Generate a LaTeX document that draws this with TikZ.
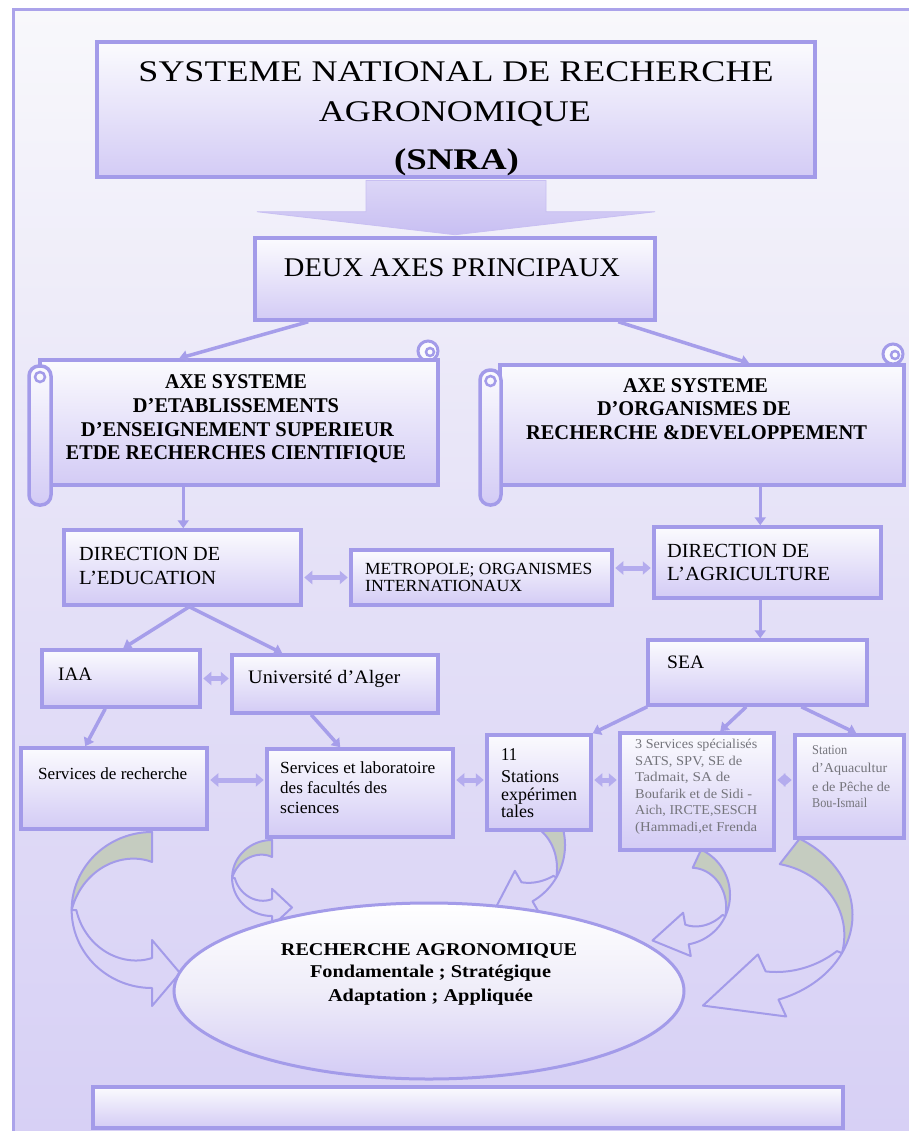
\documentclass[tikz,border=0pt]{standalone}
\usepackage{fontspec}
\setmainfont{Liberation Serif}
\usepackage{graphicx}
\usetikzlibrary{arrows.meta,calc,shapes.geometric}

\definecolor{frame}{HTML}{ABA3EA}
\definecolor{edge}{HTML}{A39BE9}
\definecolor{boxtop}{HTML}{FBFBFE}
\definecolor{boxbot}{HTML}{D3CBF5}
\definecolor{bgtop}{HTML}{F8F8FB}
\definecolor{bgmid}{HTML}{E4E0F7}
\definecolor{bgbot}{HTML}{D6CFF5}
\definecolor{linkc}{HTML}{A69EEA}
\definecolor{dlinkc}{HTML}{B4ACEE}
\definecolor{sage}{HTML}{C5CCC0}
\definecolor{greytxt}{HTML}{75757C}
\definecolor{arrtop}{HTML}{DCD6F7}
\definecolor{arrbot}{HTML}{C8BFF2}
\definecolor{ellbot}{HTML}{D3CBF5}
\definecolor{ellmid}{HTML}{EFEDF9}

\newcommand\fs[1]{\fontsize{#1}{#1}\selectfont}
\newcommand\fitw[2]{\resizebox{#1}{\height}{#2}}
% one line of text: name, anchor, position, font, width, text
\newcommand\tline[6]{\node[anchor=#2,inner sep=0pt,font=#4] (#1) at (#3) {\fitw{#5}{#6}};}

% curved block arrow: centre (#1,#2), outer radius #3, horizontal stretch #4,
% band width #5, start angle #6, end of shaded back part #7, neck angle #8,
% head length #9
\newcommand\curvarrow[9]{%
  \pgfmathsetmacro\cvd{(#8>#6) ? 1 : -1}%
  \pgfmathsetmacro\cvh{0.6*#5}%
  \pgfmathsetmacro\cvn{sqrt((#4*sin(#8))^2+(cos(#8))^2)}%
  \pgfmathsetmacro\cvtx{-\cvd*#4*sin(#8)/\cvn}%
  \pgfmathsetmacro\cvty{\cvd*cos(#8)/\cvn}%
  \pgfmathsetmacro\cvrm{#3-#5/2}%
  \pgfmathsetmacro\cvpx{#1+#4*\cvrm*cos(#8)+#9*\cvtx}%
  \pgfmathsetmacro\cvpy{#2+\cvrm*sin(#8)+#9*\cvty}%
  \filldraw[backpart]
    plot[domain=#6:#7,samples=40,variable=\q] ({#1+#4*#3*cos(\q)},{#2+#3*sin(\q)})
    -- plot[domain=#7:#6,samples=40,variable=\q]
       ({#1+#4*(#3-#5*(\q-(#7))/((#6)-(#7)))*cos(\q)},{#2+(#3-#5*(\q-(#7))/((#6)-(#7)))*sin(\q)})
    -- cycle;
  \draw[frontpart]
    plot[domain=#7:#8,samples=40,variable=\q] ({#1+#4*#3*cos(\q)},{#2+#3*sin(\q)})
    -- ({#1+#4*(#3+\cvh)*cos(#8)},{#2+(#3+\cvh)*sin(#8)})
    -- (\cvpx,\cvpy)
    -- ({#1+#4*(#3-#5-\cvh)*cos(#8)},{#2+(#3-#5-\cvh)*sin(#8)})
    -- plot[domain=#8:#7,samples=40,variable=\q]
       ({#1+#4*(#3-#5+0.85*#5*(\q-(#8))/((#7)-(#8)))*cos(\q)},{#2+(#3-#5+0.85*#5*(\q-(#8))/((#7)-(#8)))*sin(\q)})
    -- cycle;
}

\begin{document}
\begin{tikzpicture}[x=1pt,y=-1pt,
  box/.style={rectangle,draw=edge,line width=3.5pt,top color=boxtop,bottom color=boxbot,inner sep=0pt},
  roll/.style={draw=edge,line width=3.5pt,top color=boxtop,bottom color=boxbot},
  curl/.style={draw=edge,line width=2.5pt},
  link/.style={draw=linkc,line width=3.5pt,-{Triangle[width=11pt,length=8pt]}},
  dlink/.style={draw=dlinkc,line width=5pt,{Triangle[width=13pt,length=8pt]}-{Triangle[width=13pt,length=8pt]},shorten >=1.5pt,shorten <=1.5pt},
  backpart/.style={fill=sage,draw=edge,line width=2pt,line join=round},
  frontpart/.style={draw=edge,line width=2pt,line join=round},
  blockarrow/.style={top color=arrtop,bottom color=arrbot,draw=arrbot,line width=0.8pt},
  plain/.style={text=black},
  grey/.style={text=greytxt}]

\useasboundingbox (0,0) rectangle (909,1131);
\clip (0,0) rectangle (909,1131);
\fill[white] (0,0) rectangle (909,1131);

% page frame with its soft lavender gradient
\path[draw=frame,line width=3pt,top color=bgtop,bottom color=bgbot,middle color=bgmid]
  (13,10) rectangle (950,1170);

% curved arrows feeding the research ellipse
\curvarrow{152}{910}{78}{1.03}{30}{270}{180}{90}{28}
\curvarrow{272}{878}{38}{1.05}{17}{270}{180}{90}{20}
\curvarrow{500}{845}{65}{1}{22}{-20}{30}{60}{38}
\curvarrow{680}{895}{50}{1}{20}{-65}{25}{80}{35}
\curvarrow{740}{915}{90}{1.25}{30}{-58}{25}{70}{72}

% title and the two axes
\node[box,minimum width=718pt,minimum height=135pt] (title) at (456,109.5) {};
\node[box,minimum width=400pt,minimum height=82pt] (deux) at (455,279) {};
\path[blockarrow]
  ($(title.south)+(-90,1.75)$) -- ($(title.south)+(90,1.75)$) -- ($(title.south)+(90,33)$)
  -- ($(title.south)+(199,33)$) -- ($(deux.north)+(0,-1.5)$) -- ($(title.south)+(-199,33)$)
  -- ($(title.south)+(-90,33)$) -- cycle;

% left scroll
\path[draw=edge,line width=3pt,fill=boxtop] (428,351) circle[radius=10];
\node[box,minimum width=398pt,minimum height=125pt] (lscroll) at (239,422.5) {};
\path[curl] (430,352) circle[radius=4];
\path[roll,rounded corners=10pt] (29,366) rectangle (51,505);
\path[curl] (40,377) circle[radius=5];

% right scroll
\path[draw=edge,line width=3pt,fill=boxtop] (893,354) circle[radius=10];
\node[box,minimum width=404pt,minimum height=120pt] (rscroll) at (702,425) {};
\path[curl] (895,355) circle[radius=4];
\path[roll,rounded corners=10pt] (480,370) rectangle (501,505);
\path[curl] (490.5,381) circle[radius=5];

% boxes
\node[box,minimum width=237pt,minimum height=75pt] (edu) at (182.5,567.5) {};
\node[box,minimum width=261pt,minimum height=55pt] (metro) at (481.5,577.5) {};
\node[box,minimum width=227pt,minimum height=71pt] (agri) at (767.5,562.5) {};
\node[box,minimum width=158pt,minimum height=57pt] (iaa) at (121,678.5) {};
\node[box,minimum width=206pt,minimum height=58pt] (univ) at (335,684) {};
\node[box,minimum width=219pt,minimum height=65pt] (sea) at (757.5,672.5) {};
\node[box,minimum width=186pt,minimum height=81pt] (srech) at (114,788.5) {};
\node[box,minimum width=186pt,minimum height=88pt] (slab) at (360,793) {};
\node[box,minimum width=104pt,minimum height=95pt] (stat11) at (539,782.5) {};
\node[box,minimum width=154pt,minimum height=117pt] (svc3) at (697,791.5) {};
\node[box,minimum width=109pt,minimum height=103pt] (aqua) at (849.5,786.5) {};
\node[box,minimum width=750pt,minimum height=41pt] (bar) at (468,1107.5) {};

% connectors
\draw[link] ($(deux.south west)+(55,0)$) -- ($(lscroll.north west)+(141,0)$);
\draw[link] ($(deux.south west)+(365,0)$) -- ($(rscroll.north west)+(251,0)$);
\draw[link] ($(lscroll.south west)+(145,0)$) -- ($(edu.north west)+(121,0)$);
\draw[link] ($(rscroll.south west)+(262,0)$) -- ($(agri.north west)+(108,0)$);
\draw[dlink] (edu.east |- metro.west) -- (metro.west);
\draw[dlink] ($(metro.east)+(0,-9.5)$) -- ($(agri.west)+(0,5.5)$);
\draw[link] ($(edu.south west)+(127,0)$) -- ($(iaa.north west)+(83,0)$);
\draw[link] ($(edu.south west)+(127,0)$) -- ($(univ.north west)+(52,0)$);
\draw[link] ($(agri.south west)+(108,0)$) -- ($(sea.north west)+(114,0)$);
\draw[dlink] (iaa.east) -- (univ.west |- iaa.east);
\draw[link] ($(iaa.south west)+(65,0)$) -- ($(srech.north west)+(66,0)$);
\draw[link] ($(univ.south west)+(81,0)$) -- ($(slab.north west)+(75,0)$);
\draw[dlink] ($(srech.east)+(0,-8.5)$) -- ($(slab.west)+(0,-13)$);
\draw[dlink] ($(slab.east)+(0,-13)$) -- ($(stat11.west)+(0,-2.5)$);
\draw[dlink] ($(stat11.east)+(0,-2.5)$) -- ($(svc3.west)+(0,-11.5)$);
\draw[dlink] ($(svc3.east)+(0,-11.5)$) -- ($(aqua.west)+(0,-6.5)$);
\draw[link] ($(sea.south west)+(1,0)$) -- (stat11.north east);
\draw[link] ($(sea.south west)+(100,0)$) -- ($(svc3.north west)+(102,0)$);
\draw[link] ($(sea.south west)+(155,0)$) -- ($(aqua.north west)+(63,0)$);

% research ellipse
\node[ellipse,draw=edge,line width=3pt,minimum width=510pt,minimum height=176pt,inner sep=0pt,
      top color=white,bottom color=ellbot,middle color=ellmid] (core) at (429,991) {};

% texts
\tline{t1}{base}{456,82}{\fs{30}}{635pt}{SYSTEME NATIONAL DE RECHERCHE}
\tline{t2}{base}{455,122}{\fs{30}}{272pt}{AGRONOMIQUE}
\tline{t3}{base}{456.5,170}{\fs{30}\bfseries}{125pt}{(SNRA)}
\tline{d1}{base}{452,277}{\fs{27}}{336pt}{DEUX AXES PRINCIPAUX}

\tline{ls1}{base}{236,388}{\fs{21}\bfseries}{142pt}{AXE SYSTEME}
\tline{ls2}{base}{236,412}{\fs{21}\bfseries}{206pt}{D'ETABLISSEMENTS}
\tline{ls3}{base}{237.5,436}{\fs{21}\bfseries}{313pt}{D'ENSEIGNEMENT SUPERIEUR}
\tline{ls4}{base}{236,459}{\fs{21}\bfseries}{340pt}{ETDE RECHERCHES CIENTIFIQUE}
\tline{rs1}{base}{695.5,392}{\fs{21}\bfseries}{145pt}{AXE SYSTEME}
\tline{rs2}{base}{694,415}{\fs{21}\bfseries}{194pt}{D'ORGANISMES DE}
\tline{rs3}{base}{696.5,439}{\fs{21}\bfseries}{341pt}{RECHERCHE \&DEVELOPPEMENT}

\tline{e1}{base west}{79,560}{\fs{20}}{141pt}{DIRECTION DE}
\tline{e2}{base west}{79,584}{\fs{20}}{137pt}{L’EDUCATION}
\tline{m1}{base west}{365,574}{\fs{17}}{227pt}{METROPOLE; ORGANISMES}
\tline{m2}{base west}{365,591}{\fs{17}}{157pt}{INTERNATIONAUX}
\tline{a1}{base west}{667,557}{\fs{20}}{142pt}{DIRECTION DE}
\tline{a2}{base west}{667,580}{\fs{20}}{163pt}{L’AGRICULTURE}

\tline{i1}{base west}{58,680}{\fs{19}}{34pt}{IAA}
\tline{u1}{base west}{248,683}{\fs{19}}{152pt}{Université d’Alger}
\tline{s1}{base west}{667,668}{\fs{19}}{37pt}{SEA}

\tline{r1}{base west}{38,779}{\fs{17}}{149pt}{Services de recherche}
\tline{l1}{base west}{280,773}{\fs{17}}{155pt}{Services et laboratoire}
\tline{l2}{base west}{280,793}{\fs{17}}{107pt}{des facultés des}
\tline{l3}{base west}{280,813}{\fs{17}}{59pt}{sciences}
\tline{n1}{base west}{501,760}{\fs{18}}{16pt}{11}
\tline{n2}{base west}{501,782}{\fs{18}}{58pt}{Stations}
\tline{n3}{base west}{501,800}{\fs{18}}{76pt}{expérimen}
\tline{n4}{base west}{501,817}{\fs{18}}{33pt}{tales}

\tline{v1}{base west}{635,748}{\fs{13.5}\color{greytxt}}{122pt}{3 Services spécialisés}
\tline{v2}{base west}{635,765}{\fs{13.5}\color{greytxt}}{107pt}{SATS, SPV, SE de}
\tline{v3}{base west}{635,781}{\fs{13.5}\color{greytxt}}{95pt}{Tadmait, SA de}
\tline{v4}{base west}{635,798}{\fs{13.5}\color{greytxt}}{117pt}{Boufarik et de Sidi -}
\tline{v5}{base west}{635,814}{\fs{13.5}\color{greytxt}}{122pt}{Aich, IRCTE,SESCH}
\tline{v6}{base west}{635,831}{\fs{13.5}\color{greytxt}}{122pt}{(Hammadi,et Frenda}
\tline{q1}{base west}{812,754}{\fs{13.5}\color{greytxt}}{35pt}{Station}
\tline{q2}{base west}{812,772}{\fs{13.5}\color{greytxt}}{75pt}{d’Aquacultur}
\tline{q3}{base west}{812,791}{\fs{13.5}\color{greytxt}}{78pt}{e de Pêche de}
\tline{q4}{base west}{812,807}{\fs{13.5}\color{greytxt}}{55pt}{Bou-Ismail}

\tline{c1}{base}{429,955}{\fs{18}\bfseries}{296pt}{RECHERCHE AGRONOMIQUE}
\tline{c2}{base}{430.5,977}{\fs{18}\bfseries}{241pt}{Fondamentale ; Stratégique}
\tline{c3}{base}{430.5,1001}{\fs{18}\bfseries}{205pt}{Adaptation ; Appliquée}

\end{tikzpicture}
\end{document}
